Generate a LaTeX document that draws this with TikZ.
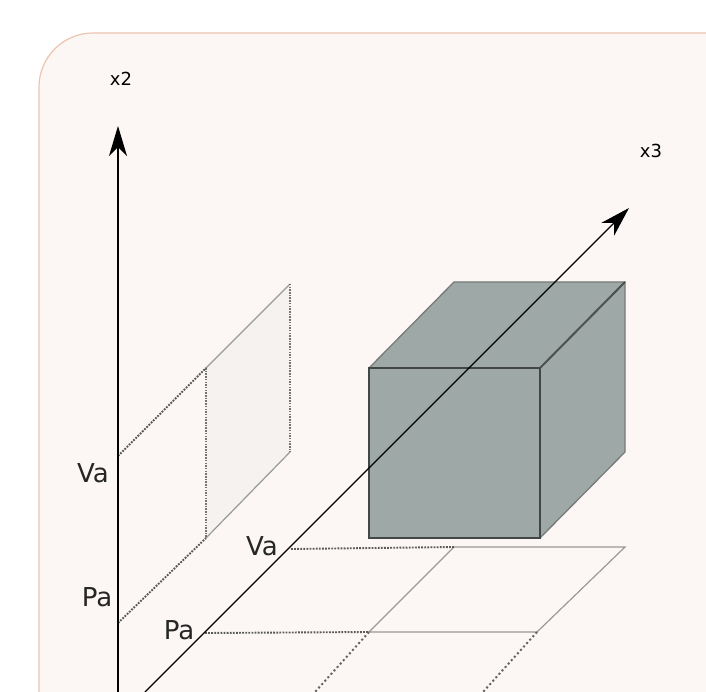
\documentclass[tikz,border=0pt]{standalone}
\usepackage{fontspec}
\setmainfont{DejaVu Sans}
\usetikzlibrary{arrows.meta}

\definecolor{panelfill}{HTML}{FCF7F4}
\definecolor{panelline}{HTML}{ECC4B0}
\definecolor{cubefill}{HTML}{9EA9A7}
\definecolor{cubeline}{HTML}{2E3231}
\definecolor{shadowfill}{HTML}{F6F2EF}

\tikzset{
    axis/.style={line width=1.4pt, -{Stealth[length=30pt, width=18pt, inset=9pt]}},
    guide/.style={line width=1.9pt, dash pattern=on 1.8pt off 1.3pt, black!65},
    thinguide/.style={line width=1.2pt, dash pattern=on 1.5pt off 1.2pt, black!55},
    dotguide/.style={line width=2pt, dash pattern=on 2pt off 2.6pt, black!60},
    outline/.style={line width=1.2pt, black!40},
    axislabel/.style={font=\fontsize{18}{21}\selectfont},
    rangelabel/.style={font=\fontsize{26}{30}\selectfont, text=black!85},
}

\begin{document}
\begin{tikzpicture}[x=1pt, y=-1pt]
    \useasboundingbox (0,0) rectangle (706,692);

    % panel
    \begin{scope}
        \clip (0,0) rectangle (706,692);
        \draw[panelline, fill=panelfill, line width=1.2pt, rounded corners=54pt]
            (39,790) -- (39,33) -- (800,33) -- (800,790) -- cycle;
    \end{scope}

    % mark points
    \coordinate (O2) at (118,692);
    \coordinate (T2) at (118,126);
    \coordinate (O3) at (145,692);
    \coordinate (T3) at (629,208);

    \coordinate (A) at (369,368);
    \coordinate (B) at (540,368);
    \coordinate (C) at (540,538);
    \coordinate (D) at (369,538);
    \coordinate (E) at (454,282);
    \coordinate (F) at (625,282);
    \coordinate (G) at (625,452);

    \coordinate (L1) at (206,368);
    \coordinate (L2) at (290,284);
    \coordinate (L3) at (290,452);
    \coordinate (L4) at (206,538);
    \coordinate (LVa) at (118,456);
    \coordinate (LPa) at (118,623);

    \coordinate (P1) at (454,547);
    \coordinate (P2) at (625,547);
    \coordinate (P3) at (537,632);
    \coordinate (P4) at (369,632);
    \coordinate (PVa) at (291,549);
    \coordinate (PPa) at (205,633);
    \coordinate (P5) at (315,692);
    \coordinate (P6) at (483,692);

    % projection on the left
    \fill[shadowfill] (L1) -- (L2) -- (L3) -- (L4) -- cycle;
    \draw[outline] (L1) -- (L2);
    \draw[outline] (L4) -- (L3);
    \draw[thinguide] (L1) -- (L4);
    \draw[thinguide] (L2) -- (L3);
    \draw[guide] (LVa) -- (L1);
    \draw[guide] (LPa) -- (L4);

    % projection on the floor
    \draw[outline] (P1) -- (P2) -- (P3) -- (P4) -- cycle;
    \draw[guide] (PVa) -- (P1);
    \draw[guide] (PPa) -- (P4);
    \draw[dotguide] (P4) -- (P5);
    \draw[dotguide] (P3) -- (P6);

    % draw cube
    \fill[cubefill] (A) -- (E) -- (F) -- (G) -- (C) -- (D) -- cycle;
    \draw[cubeline!65, line width=1.3pt] (A) -- (E) -- (F) -- (G) -- (C);
    \draw[cubeline!85, line width=2pt] (B) -- (F);
    \draw[cubeline!90, line width=2.8pt] (A) -- (B) -- (C) -- (D) -- cycle;

    % draw axes
    \draw[axis] (O2) -- (T2);
    \draw[axis] (O3) -- (T3);

    % labels
    \node[axislabel] (x2) at (121,79) {x2};
    \node[axislabel] (x3) at (651,151) {x3};
    \node[rangelabel] (Va2) at (93,473) {Va};
    \node[rangelabel] (Pa2) at (97,597) {Pa};
    \node[rangelabel] (Va3) at (262,546) {Va};
    \node[rangelabel] (Pa3) at (179,630) {Pa};
\end{tikzpicture}
\end{document}
